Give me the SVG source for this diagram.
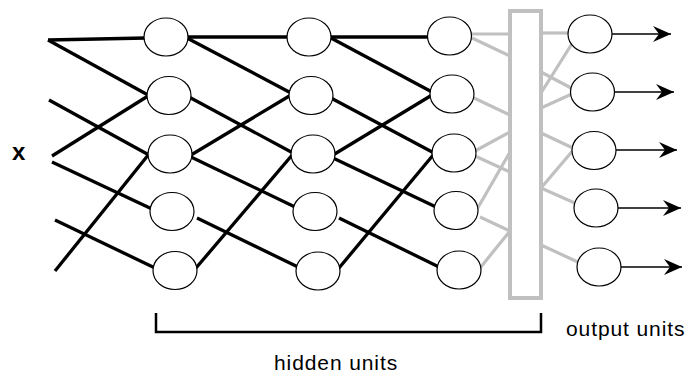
<svg xmlns="http://www.w3.org/2000/svg" width="689" height="374" viewBox="0 0 689 374">
<defs>
<style>
.b{stroke:#000;stroke-width:3.3;fill:none;stroke-linecap:butt}
.g{stroke:#c0c0c0;stroke-width:3.2;fill:none}
.a{stroke:#000;stroke-width:1.3;fill:none}
.n{fill:#fff;stroke:#000;stroke-width:1.2}
.t{font-family:"Liberation Sans",Arial,sans-serif;font-size:21px;letter-spacing:0.9px;fill:#000}
</style>
<marker id="ah" markerUnits="userSpaceOnUse" markerWidth="20" markerHeight="16" refX="18" refY="8" orient="auto">
<path d="M0,0 L18,8 L0,16 L6,8 z" fill="#000"/>
</marker>
</defs>
<g id="connectors">
<g id="input-lines">
<line class="b" x1="48" y1="40" x2="146" y2="38"/>
<line class="b" x1="48" y1="40" x2="148" y2="95"/>
<line class="b" x1="49" y1="100" x2="149" y2="155"/>
<line class="b" x1="52" y1="156" x2="148" y2="96"/>
<line class="b" x1="52" y1="162" x2="152" y2="209"/>
<line class="b" x1="55" y1="220" x2="155" y2="268"/>
<line class="b" x1="55" y1="271" x2="149" y2="154"/>
</g>
<g id="h1-h2">
<line class="b" x1="186" y1="37" x2="289" y2="37"/>
<line class="b" x1="187" y1="38" x2="291" y2="93"/>
<line class="b" x1="189" y1="97" x2="293" y2="153"/>
<line class="b" x1="191" y1="155" x2="291" y2="95"/>
<line class="b" x1="191" y1="157" x2="295" y2="207"/>
<line class="b" x1="197" y1="218" x2="298" y2="267"/>
<line class="b" x1="196" y1="268" x2="293" y2="154"/>
</g>
<g id="h2-h3">
<line class="b" x1="329" y1="37" x2="429" y2="37"/>
<line class="b" x1="331" y1="38" x2="432" y2="92"/>
<line class="b" x1="331" y1="98" x2="434" y2="153"/>
<line class="b" x1="333" y1="155" x2="432" y2="95"/>
<line class="b" x1="333" y1="158" x2="436" y2="207"/>
<line class="b" x1="339" y1="218" x2="439" y2="267"/>
<line class="b" x1="339" y1="268" x2="434" y2="154"/>
</g>
<g id="h3-bar">
<line class="g" x1="471" y1="34" x2="510" y2="34"/>
<line class="g" x1="472" y1="38" x2="510" y2="56"/>
<line class="g" x1="474" y1="98" x2="510" y2="115"/>
<line class="g" x1="475" y1="151" x2="510" y2="132"/>
<line class="g" x1="475" y1="156" x2="510" y2="172"/>
<line class="g" x1="476" y1="211" x2="510" y2="152"/>
<line class="g" x1="480" y1="217" x2="510" y2="231"/>
<line class="g" x1="480" y1="268" x2="510" y2="231"/>
</g>
<g id="bar-out">
<line class="g" x1="541" y1="33" x2="570" y2="33"/>
<line class="g" x1="541" y1="72" x2="573" y2="89"/>
<line class="g" x1="541" y1="93" x2="573" y2="42"/>
<line class="g" x1="541" y1="108" x2="574" y2="93"/>
<line class="g" x1="541" y1="133" x2="575" y2="149"/>
<line class="g" x1="541" y1="188" x2="575" y2="148"/>
<line class="g" x1="541" y1="188" x2="577" y2="204"/>
<line class="g" x1="541" y1="245" x2="580" y2="263"/>
</g>
<g id="output-arrows">
<line class="a" x1="612" y1="34" x2="671" y2="34" marker-end="url(#ah)"/>
<line class="a" x1="614" y1="92" x2="674" y2="92" marker-end="url(#ah)"/>
<line class="a" x1="616" y1="150" x2="677" y2="150" marker-end="url(#ah)"/>
<line class="a" x1="618" y1="208" x2="681" y2="208" marker-end="url(#ah)"/>
<line class="a" x1="621" y1="267" x2="682" y2="267" marker-end="url(#ah)"/>
</g>
<path id="bracket" d="M156,313 V332 H541 V313" fill="none" stroke="#000" stroke-width="2.5"/>
</g>
<g id="bar"><rect x="510" y="11" width="31" height="287" fill="#fff" stroke="#c0c0c0" stroke-width="4"/></g>
<g id="h1">
<ellipse class="n" cx="166" cy="37" rx="22" ry="19"/>
<ellipse class="n" cx="169" cy="95.5" rx="22" ry="19"/>
<ellipse class="n" cx="170" cy="154" rx="22" ry="19"/>
<ellipse class="n" cx="172" cy="211.5" rx="22" ry="19"/>
<ellipse class="n" cx="175" cy="270.5" rx="22" ry="19"/>
</g>
<g id="h2">
<ellipse class="n" cx="309" cy="37" rx="22" ry="19"/>
<ellipse class="n" cx="311" cy="95.5" rx="22" ry="19"/>
<ellipse class="n" cx="313" cy="154" rx="22" ry="19"/>
<ellipse class="n" cx="315" cy="211.5" rx="22" ry="19"/>
<ellipse class="n" cx="318" cy="271" rx="22" ry="19"/>
</g>
<g id="h3">
<ellipse class="n" cx="449.5" cy="36" rx="22" ry="19"/>
<ellipse class="n" cx="452" cy="94" rx="22" ry="19"/>
<ellipse class="n" cx="454" cy="153" rx="22" ry="19"/>
<ellipse class="n" cx="456" cy="210.5" rx="22" ry="19"/>
<ellipse class="n" cx="459" cy="270" rx="22" ry="19"/>
</g>
<g id="out">
<ellipse class="n" cx="590" cy="34" rx="22" ry="19"/>
<ellipse class="n" cx="592.5" cy="92" rx="22" ry="19"/>
<ellipse class="n" cx="594" cy="150.5" rx="22" ry="19"/>
<ellipse class="n" cx="596" cy="208" rx="22" ry="19"/>
<ellipse class="n" cx="599" cy="267" rx="22" ry="19"/>
</g>
<g id="labels">
<text x="12" y="160" font-family="Liberation Sans, Arial, sans-serif" font-size="24" font-weight="bold">x</text>
<text class="t" x="566" y="336">output units</text>
<text class="t" x="274" y="370">hidden units</text>
</g>
</svg>
